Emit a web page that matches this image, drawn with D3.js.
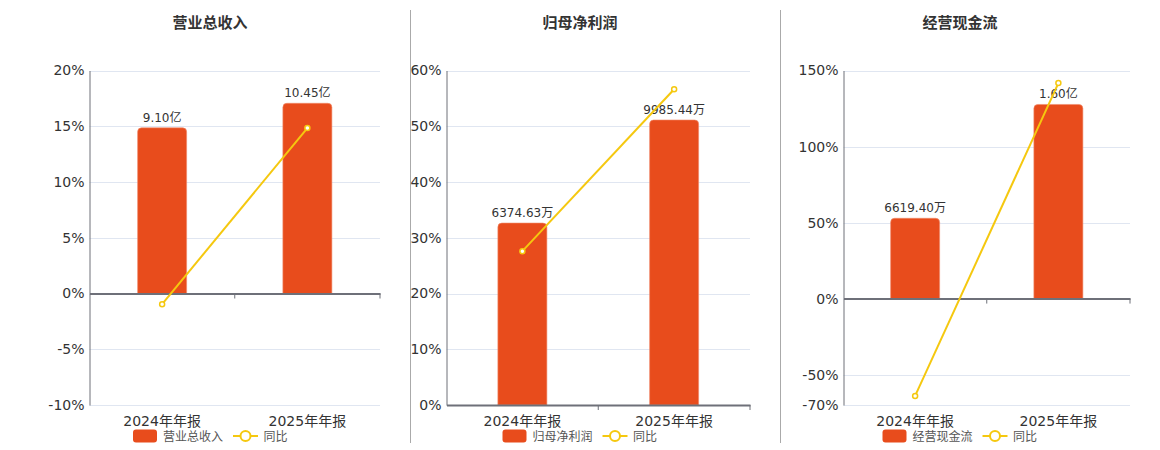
<!DOCTYPE html>
<meta charset="utf-8">
<style>
body { margin: 0; background: #fff; }
svg text { font-family: "DejaVu Sans", "Noto Sans CJK SC", sans-serif; fill: #333; }
.grid line { stroke: #e0e6f1; }
.title { font-family: "Noto Sans CJK SC", sans-serif; font-weight: bold; font-size: 15px; }
</style>
<svg width="1160" height="450"></svg>
<script src="https://d3js.org/d3.v7.min.js"></script>
<script>

var categories = ["2024年年报", "2025年年报"];
var panelTitles = ["营业总收入", "归母净利润", "经营现金流"];

// bar values (revenue in 亿, the other two in 万)
var revenue = [9.10, 10.45];
var revenueLabels = ["9.10亿", "10.45亿"];
var revenueYoY = [-0.96, 14.84];

var netProfit = [6374.63, 9985.44];
var netProfitLabels = ["6374.63万", "9985.44万"];
var netProfitYoY = [27.6, 56.64];

var cashFlow = [6619.40, 16000];
var cashFlowLabels = ["6619.40万", "1.60亿"];
var cashFlowYoY = [-64.0, 141.7];

// percentage axis ticks for each panel
var pctTicks1 = [-10, -5, 0, 5, 10, 15, 20];
var pctTicks2 = [0, 10, 20, 30, 40, 50, 60];
var pctTicks3 = [-70, -50, 0, 50, 100, 150];

// hidden bar axis maximum (bar zero sits on the 0% line)
var barMax = [12.25, 11720, 18800];

var panels = [
  {title: panelTitles[0], bars: revenue, labels: revenueLabels, yoy: revenueYoY, ticks: pctTicks1,
   left: 89.5, right: 380, titleX: 210, legendX: 133},
  {title: panelTitles[1], bars: netProfit, labels: netProfitLabels, yoy: netProfitYoY, ticks: pctTicks2,
   left: 446.5, right: 750, titleX: 580, legendX: 502.5},
  {title: panelTitles[2], bars: cashFlow, labels: cashFlowLabels, yoy: cashFlowYoY, ticks: pctTicks3,
   left: 843.5, right: 1130, titleX: 960, legendX: 882.5}
];

var svg = d3.select("svg");
var top_ = 70.5, bottom = 405;
var barColor = "#e84c1c", lineColor = "#f5c80f";

// separators between panels
[410.5, 780.5].forEach(function(x){
  svg.append("line").attr("x1", x).attr("x2", x).attr("y1", 10).attr("y2", 443)
    .style("stroke", "#aaa").style("stroke-width", 1);
});

function topRounded(x, y, w, h, r) {
  r = Math.min(r, h);
  return "M" + x + "," + (y + h) +
    "V" + (y + r) + "Q" + x + "," + y + " " + (x + r) + "," + y +
    "H" + (x + w - r) + "Q" + (x + w) + "," + y + " " + (x + w) + "," + (y + r) +
    "V" + (y + h) + "Z";
}

panels.forEach(function(p, pi){
  var g = svg.append("g");

  var y = d3.scaleLinear().domain(d3.extent(p.ticks)).range([bottom, top_]);
  var x = d3.scaleBand().domain(categories).range([p.left, p.right]);
  var zeroY = y(0);
  var yb = d3.scaleLinear().domain([0, barMax[pi]]).range([zeroY, top_]);

  // title
  g.append("text").attr("class", "title")
    .attr("x", p.titleX).attr("y", 28)
    .attr("text-anchor", "middle")
    .text(p.title);

  // gridlines
  g.append("g").attr("class", "grid")
    .selectAll("line").data(p.ticks).enter().append("line")
    .attr("x1", p.left).attr("x2", p.right)
    .attr("y1", function(d){ return Math.round(y(d)) + 0.5; })
    .attr("y2", function(d){ return Math.round(y(d)) + 0.5; });

  // y axis
  var yAxis = g.append("g").attr("transform", "translate(" + p.left + ",0)")
    .call(d3.axisLeft(y).tickValues(p.ticks).tickSize(0).tickPadding(5)
      .tickFormat(function(d){ return d + "%"; }));
  yAxis.select(".domain").style("stroke", "#6e7079");
  yAxis.selectAll("text").style("font-size", "14px").style("fill", "#333");

  // bars
  g.selectAll("path.bar").data(p.bars).enter().append("path")
    .attr("class", "bar")
    .attr("d", function(d, i){
      var cx = x(categories[i]) + x.bandwidth() / 2;
      var w = 49;
      return topRounded(cx - w / 2, yb(d), w, zeroY - yb(d), 4);
    })
    .style("fill", barColor)
    .style("stroke", "#f08a6a").style("stroke-width", 0.6);

  // bar labels
  g.selectAll("text.blabel").data(p.bars).enter().append("text")
    .attr("class", "blabel")
    .attr("x", function(d, i){ return x(categories[i]) + x.bandwidth() / 2; })
    .attr("y", function(d){ return yb(d) - 6; })
    .attr("text-anchor", "middle")
    .style("font-size", "12px")
    .text(function(d, i){ return p.labels[i]; });

  // x axis at zero
  var xAxis = g.append("g").attr("transform", "translate(0," + zeroY + ")")
    .call(d3.axisBottom(x).tickSizeOuter(0).tickSize(0).tickFormat(""));
  xAxis.select(".domain").style("stroke", "#6e7079").style("stroke-width", 2);
  g.selectAll("line.xtick").data(categories).enter().append("line")
    .attr("class", "xtick")
    .attr("x1", function(d){ return x(d) + x.bandwidth(); })
    .attr("x2", function(d){ return x(d) + x.bandwidth(); })
    .attr("y1", zeroY).attr("y2", zeroY + 5)
    .style("stroke", "#6e7079");

  // category labels
  g.selectAll("text.cat").data(categories).enter().append("text")
    .attr("class", "cat")
    .attr("x", function(d){ return x(d) + x.bandwidth() / 2; })
    .attr("y", 426)
    .attr("text-anchor", "middle")
    .style("font-size", "14px")
    .text(function(d){ return d; });

  // yoy line
  var line = d3.line()
    .x(function(d, i){ return x(categories[i]) + x.bandwidth() / 2; })
    .y(function(d){ return y(d); });
  g.append("path").datum(p.yoy).attr("d", line)
    .style("fill", "none").style("stroke", lineColor).style("stroke-width", 2);
  g.selectAll("circle.pt").data(p.yoy).enter().append("circle")
    .attr("class", "pt")
    .attr("cx", function(d, i){ return x(categories[i]) + x.bandwidth() / 2; })
    .attr("cy", function(d){ return y(d); })
    .attr("r", 2.5)
    .style("fill", "#fff").style("stroke", lineColor).style("stroke-width", 1.5);

  // legend
  var lg = g.append("g").attr("transform", "translate(" + p.legendX + ",436)");
  lg.append("rect").attr("x", 0).attr("y", -6.5).attr("width", 24).attr("height", 13)
    .attr("rx", 3).style("fill", barColor);
  lg.append("text").attr("x", 30).attr("y", 4.5).style("font-size", "12px")
    .style("font-family", "'Noto Sans CJK SC', sans-serif").style("fill", "#555")
    .text(p.title);
  lg.append("line").attr("x1", 100).attr("x2", 125).attr("y1", 0).attr("y2", 0)
    .style("stroke", lineColor).style("stroke-width", 2);
  lg.append("circle").attr("cx", 112.5).attr("cy", 0).attr("r", 5)
    .style("fill", "#fff").style("stroke", lineColor).style("stroke-width", 2);
  lg.append("text").attr("x", 130.5).attr("y", 4.5).style("font-size", "12px")
    .style("font-family", "'Noto Sans CJK SC', sans-serif").style("fill", "#555")
    .text("同比");
});

</script>
